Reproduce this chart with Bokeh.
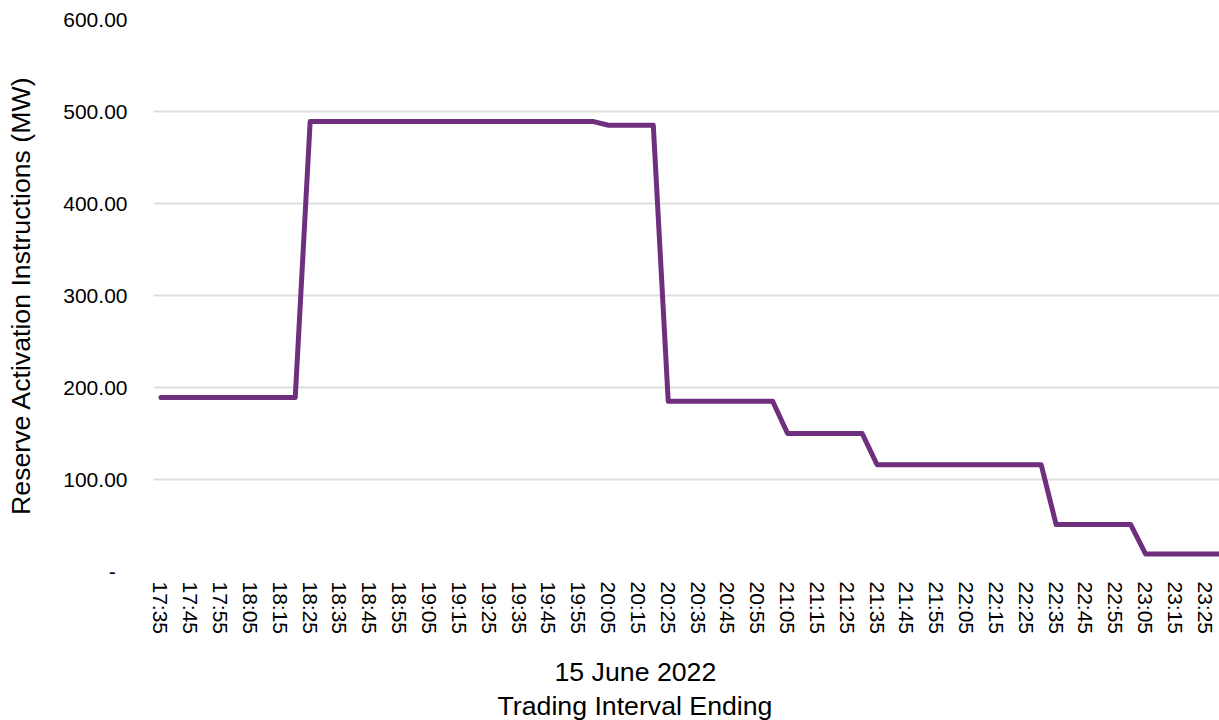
from bokeh.plotting import figure
from bokeh.models import Range1d, FixedTicker, NumeralTickFormatter, Title, ColumnDataSource
from bokeh.embed import file_html
from bokeh.resources import INLINE

# Trading intervals (5-minute ending times), 15 June 2022
intervals = [
    "17:35", "17:40", "17:45", "17:50", "17:55", "18:00", "18:05", "18:10", "18:15", "18:20",
    "18:25", "18:30", "18:35", "18:40", "18:45", "18:50", "18:55", "19:00", "19:05", "19:10",
    "19:15", "19:20", "19:25", "19:30", "19:35", "19:40", "19:45", "19:50", "19:55", "20:00",
    "20:05", "20:10", "20:15", "20:20", "20:25", "20:30", "20:35", "20:40", "20:45", "20:50",
    "20:55", "21:00", "21:05", "21:10", "21:15", "21:20", "21:25", "21:30", "21:35", "21:40",
    "21:45", "21:50", "21:55", "22:00", "22:05", "22:10", "22:15", "22:20", "22:25", "22:30",
    "22:35", "22:40", "22:45", "22:50", "22:55", "23:00", "23:05", "23:10", "23:15", "23:20",
    "23:25", "23:30",
]

# Reserve activation instructions (MW) per interval
activation_mw = [
    189, 189, 189, 189, 189, 189, 189, 189, 189, 189,
    489, 489, 489, 489, 489, 489, 489, 489, 489, 489,
    489, 489, 489, 489, 489, 489, 489, 489, 489, 489,
    485, 485, 485, 485, 185, 185, 185, 185, 185, 185,
    185, 185, 150, 150, 150, 150, 150, 150, 116, 116,
    116, 116, 116, 116, 116, 116, 116, 116, 116, 116,
    51, 51, 51, 51, 51, 51, 19, 19, 19, 19,
    19, 19,
]

y_ticks = [0, 100, 200, 300, 400, 500, 600]

FONT = "Liberation Sans"
TEXT = "#000000"
PURPLE = "#6E2F7E"

idx = list(range(len(intervals)))
src = ColumnDataSource(data=dict(x=idx, t=intervals, mw=activation_mw))

p = figure(
    width=1219, height=720,
    output_backend="svg", toolbar_location=None,
    x_range=Range1d(-0.5, 70.95), y_range=Range1d(0, 600),
    min_border_left=153, min_border_right=0,
    min_border_top=19, min_border_bottom=149,
)
p.outline_line_color = None
p.background_fill_color = "white"
p.border_fill_color = "white"

p.line("x", "mw", source=src, line_color=PURPLE, line_width=5,
       line_join="round", line_cap="round")

# x axis: every second interval labelled, text rotated
xa = p.xaxis[0]
xa.ticker = FixedTicker(ticks=idx[::2])
xa.major_label_overrides = {i: intervals[i] for i in idx[::2]}
xa.major_label_orientation = "vertical"
xa.major_label_text_font = FONT
xa.major_label_text_font_size = "21px"
xa.major_label_text_color = TEXT
xa.major_label_standoff = 4
xa.axis_line_color = None
xa.major_tick_line_color = None
xa.minor_tick_line_color = None

# y axis
ya = p.yaxis[0]
ya.ticker = FixedTicker(ticks=y_ticks)
ya.formatter = NumeralTickFormatter(format="0.00")
ya.major_label_overrides = {0: "-\u00a0\u00a0"}
ya.major_label_text_font = FONT
ya.major_label_text_font_size = "21px"
ya.major_label_text_color = TEXT
ya.major_label_standoff = 20
ya.axis_label = "Reserve Activation Instructions (MW)"
ya.axis_label_text_font = FONT
ya.axis_label_text_font_size = "26.7px"
ya.axis_label_text_font_style = "normal"
ya.axis_label_text_color = TEXT
ya.axis_label_standoff = 24
ya.axis_line_color = None
ya.major_tick_line_color = None
ya.minor_tick_line_color = None

p.xgrid.grid_line_color = None
p.ygrid.grid_line_color = "#DEDEDE"
p.ygrid.grid_line_width = 2

# two-line x axis title, stacked below the time labels
for txt, off, gap in (("15 June 2022", 401, 34), ("Trading Interval Ending", 344, -30)):
    p.add_layout(Title(text=txt, align="left", offset=off, text_font=FONT,
                       text_font_size="26.7px", text_font_style="normal",
                       text_color=TEXT, standoff=gap), "below")

open("out.html", "w").write(file_html(p, INLINE))
